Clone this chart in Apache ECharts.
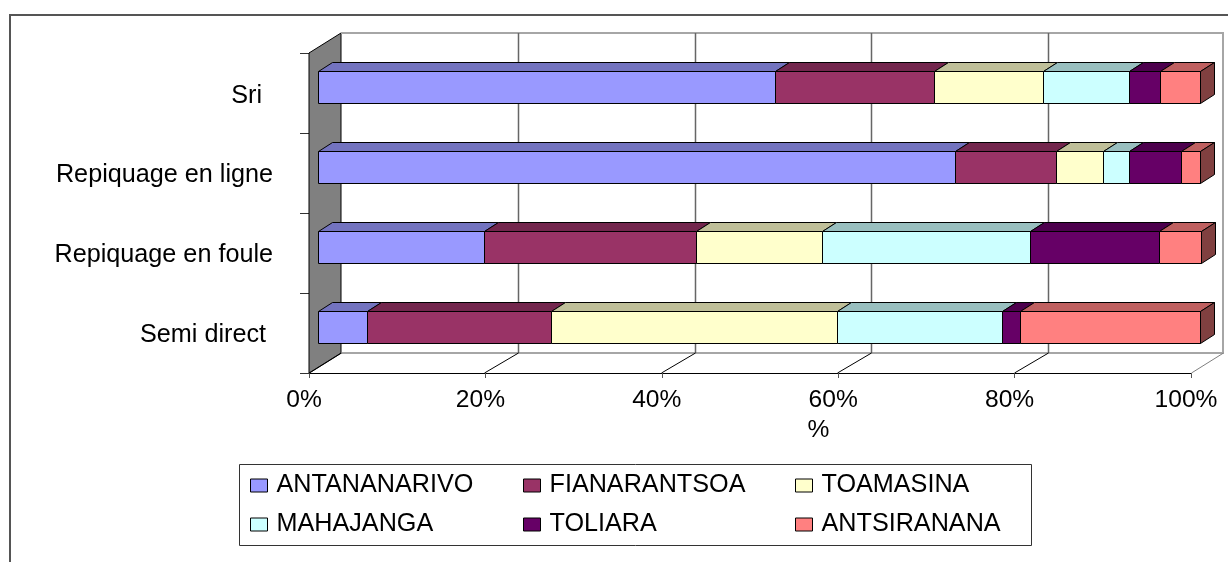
<!DOCTYPE html>
<html>
<head>
<meta charset="utf-8">
<style>
  html, body { margin: 0; padding: 0; background: #fff; }
  #chart { width: 1228px; height: 562px; }
</style>
<script src="https://cdn.jsdelivr.net/npm/echarts@6/dist/echarts.min.js"></script>
</head>
<body>
<div id="chart"></div>
<script>
var categories = ["Semi direct", "Repiquage en foule", "Repiquage en ligne", "Sri"];
var seriesNames = ["ANTANANARIVO", "FIANARANTSOA", "TOAMASINA", "MAHAJANGA", "TOLIARA", "ANTSIRANANA"];

// percent of each row, same order as categories
var antananarivo = [5.5, 18.8, 72.2, 51.8];
var fianarantsoa = [20.9, 24.1, 11.5, 18.0];
var toamasina = [32.4, 14.2, 5.3, 12.4];
var mahajanga = [18.7, 23.6, 2.9, 9.7];
var toliara = [2.1, 14.7, 6.0, 3.6];
var antsiranana = [20.4, 4.7, 2.1, 4.5];

var xTicks = [0, 20, 40, 60, 80, 100];

var allValues = [antananarivo, fianarantsoa, toamasina, mahajanga, toliara, antsiranana];
var colorList = ["#9999ff", "#993366", "#ffffcc", "#ccffff", "#660066", "#ff8080"];
var topColors = ["#7373bf", "#73264d", "#bfbf99", "#99bfbf", "#4d004d", "#bf6060"];
var sideColors = ["#4d4d80", "#4d1a33", "#808066", "#668080", "#330033", "#804040"];

// depth of the 3d box and of the bars inside it
var wallDx = 32, wallDy = -20;
var barDx = 14, barDy = -9, barOffX = 9, barOffY = -6;

var myChart = echarts.init(document.getElementById("chart"));

function renderWalls(params, api) {
  var children = [];
  var box = params.coordSys;
  var left = box.x, right = box.x + box.width, top = box.y, bottom = box.y + box.height;

  // grey side wall
  children.push({
    type: "polygon",
    shape: { points: [[left, top], [left + wallDx, top + wallDy], [left + wallDx, bottom + wallDy], [left, bottom]] },
    style: { fill: "#808080", stroke: "#000", lineWidth: 1 },
  });
  // back wall outline
  children.push({
    type: "polyline",
    shape: { points: [[left + wallDx, top + wallDy], [right + wallDx, top + wallDy], [right + wallDx, bottom + wallDy], [left + wallDx, bottom + wallDy]] },
    style: { fill: "none", stroke: "#a6a6a6", lineWidth: 2 },
  });
  xTicks.forEach(function (t) {
    var x = Math.round(api.coord([t, 0])[0]) + 0.5;
    var inner = t > 0 && t < 100;
    var backX = x + wallDx + (inner ? 1 : 0);
    if (inner) {
      children.push({
        type: "line",
        shape: { x1: backX, y1: top + wallDy, x2: backX, y2: bottom + wallDy },
        style: { stroke: "#666", lineWidth: 1.5 },
      });
    }
    // floor line
    children.push({
      type: "line",
      shape: { x1: inner ? x - 1 : x, y1: bottom, x2: backX, y2: bottom + wallDy },
      style: { stroke: t === 100 ? "#808080" : "#000", lineWidth: 1 },
    });
  });
  return { type: "group", children: children };
}

function renderSegment(params, api) {
  var s = params.seriesIndex - 1;
  var start = api.coord([api.value(0), api.value(1)]);
  var end = api.coord([api.value(2), api.value(1)]);
  var h = api.size([0, 1])[1] * 0.4;
  var x1 = Math.round(start[0] + barOffX) + 0.5;
  var x2 = Math.round(end[0] + barOffX) + 0.5;
  var y1 = Math.round(start[1] + barOffY - h / 2) + 0.5;
  var y2 = y1 + Math.round(h);
  var line = { stroke: "#000", lineWidth: 1, lineJoin: "round" };
  var children = [
    {
      type: "polygon",
      shape: { points: [[x1, y1], [x1 + barDx, y1 + barDy], [x2 + barDx, y1 + barDy], [x2, y1]] },
      style: Object.assign({ fill: topColors[s] }, line),
    },
    {
      type: "rect",
      shape: { x: x1, y: y1, width: x2 - x1, height: y2 - y1 },
      style: Object.assign({ fill: colorList[s] }, line),
    },
  ];
  if (api.value(2) > 99.9) {
    children.push({
      type: "polygon",
      shape: { points: [[x2, y1], [x2 + barDx, y1 + barDy], [x2 + barDx, y2 + barDy], [x2, y2]] },
      style: Object.assign({ fill: sideColors[s] }, line),
    });
  }
  return { type: "group", children: children };
}

var series = [
  {
    type: "custom",
    name: "walls",
    silent: true,
    clip: false,
    z: 1,
    renderItem: renderWalls,
    encode: { x: 0, y: 1 },
    data: [[0, 0]],
  },
];

var running = categories.map(function () { return 0; });
seriesNames.forEach(function (name, s) {
  var rows = allValues[s].map(function (v, c) {
    var row = [running[c], c, running[c] + v];
    running[c] += v;
    return row;
  });
  series.push({
    type: "custom",
    name: name,
    clip: false,
    z: 2 + s,
    itemStyle: { color: colorList[s] },
    renderItem: renderSegment,
    encode: { x: [0, 2], y: 1 },
    data: rows,
  });
});

var labelFont = { fontFamily: "Liberation Sans", fontSize: 25.2, color: "#000" };
var xFont = { fontFamily: "Liberation Sans", fontSize: 24.6, color: "#000" };

function legendColumn(left, names) {
  return {
    orient: "vertical",
    left: left,
    top: 473,
    padding: 0,
    icon: "rect",
    itemWidth: 17,
    itemHeight: 13,
    itemGap: 14,
    selectedMode: false,
    data: names,
    itemStyle: { borderColor: "#000", borderWidth: 1 },
    textStyle: Object.assign({ padding: [0, 0, 0, 4] }, labelFont),
  };
}

var option = {
  animation: false,
  backgroundColor: "#fff",
  grid: { left: 309, top: 53, width: 882, height: 320 },
  legend: [
    legendColumn(250, [seriesNames[0], seriesNames[3]]),
    legendColumn(523, [seriesNames[1], seriesNames[4]]),
    legendColumn(795, [seriesNames[2], seriesNames[5]]),
  ],
  xAxis: {
    type: "value",
    min: 0,
    max: 100,
    interval: 20,
    name: "%",
    nameLocation: "middle",
    nameGap: 45,
    nameTextStyle: Object.assign({ padding: [0, 0, 0, 137] }, xFont),
    axisLine: { show: true, lineStyle: { color: "#000", width: 1 } },
    axisTick: { show: true, length: 5, lineStyle: { color: "#555" } },
    splitLine: { show: false },
    axisLabel: Object.assign({ formatter: "{value}%", margin: 15, padding: [0, 10, 0, 0] }, xFont),
  },
  yAxis: {
    type: "category",
    data: [
      { value: categories[0], textStyle: { padding: [4, 7, 0, 0] } },
      { value: categories[1], textStyle: { padding: [4, 0, 0, 0] } },
      { value: categories[2], textStyle: { padding: [4, 0, 0, 0] } },
      { value: categories[3], textStyle: { padding: [6, 11, 0, 0] } },
    ],
    axisLine: { show: true, lineStyle: { color: "#000", width: 1 } },
    axisTick: { show: true, length: 9, lineStyle: { color: "#333" } },
    splitLine: { show: false },
    // rich text so the top padding really moves the label down
    axisLabel: {
      margin: 36,
      formatter: function (value) {
        return "{t|" + value + "}";
      },
      rich: { t: labelFont },
    },
  },
  graphic: [
    {
      type: "rect",
      silent: true,
      z: -1,
      shape: { x: 10, y: 15, width: 1400, height: 800 },
      style: { fill: "none", stroke: "#555", lineWidth: 2 },
    },
    {
      type: "rect",
      silent: true,
      z: -1,
      shape: { x: 239.5, y: 464.5, width: 792, height: 81 },
      style: { fill: "#fff", stroke: "#333", lineWidth: 1 },
    },
  ],
  series: series,
};
myChart.setOption(option);
</script>
</body>
</html>
